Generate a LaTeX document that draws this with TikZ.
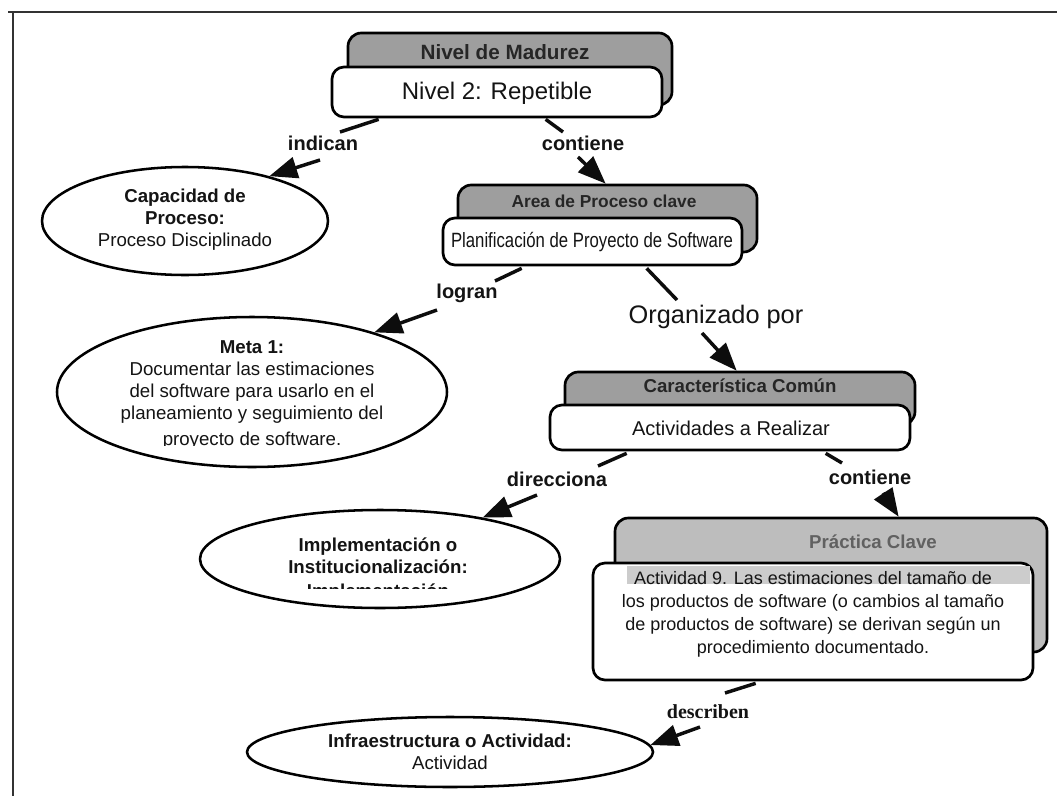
\documentclass[tikz,border=0pt]{standalone}
\usepackage{fontspec}
\setmainfont{Liberation Sans}
\newfontfamily\serifbold{Liberation Serif}
\usetikzlibrary{arrows.meta,calc,fit,shapes.geometric}

\begin{document}
\begin{tikzpicture}[x=0.75pt,y=-0.75pt,
  every node/.style={inner sep=0pt, text=black!92},
  backbox/.style={draw=black, line width=2pt, rounded corners=10pt, fill=black!38, inner sep=0pt},
  frontbox/.style={draw=black, line width=2pt, rounded corners=9pt, fill=white, inner sep=0pt},
  oval/.style={draw=black, line width=1.9pt, ellipse, fill=white, inner sep=0pt},
  head/.style={font=\bfseries\fontsize{14}{16}\selectfont, text=black!85},
  ovaltext/.style={align=center, font=\fontsize{14}{16.5}\selectfont},
  linktext/.style={font=\bfseries\fontsize{15}{18}\selectfont},
  link/.style={line width=2.6pt, draw=black!95},
  arrowlink/.style={link, -{Triangle[length=21pt,width=16pt]}}
]
% canvas and frame
\useasboundingbox (0,0) rectangle (1057,796);
\fill[white] (0,0) rectangle (1057,796);
\draw[line width=1.6pt, black!80] (8,12) -- (1057,12);
\draw[line width=1.6pt, black!80] (13,12) -- (13,796);

% level of maturity
\node[backbox, fit={(348,33) (672,105)}] (nivelback) {};
\node[head, font=\bfseries\fontsize{15.5}{18}\selectfont] (nivelhead) at (505,52) {Nivel de Madurez};
\node[frontbox, fit={(332,67) (662,117)}] (nivel) {};
\node[font=\fontsize{18}{20}\selectfont] (niveltext) at (497,93) {Nivel 2: Repetible};

% process capability
\node[oval, minimum width=214.5pt, minimum height=81pt] (cap) at (185,221) {};
\node[ovaltext] (captext) at (185,220) {\textbf{Capacidad de}\\\textbf{Proceso:}\\Proceso Disciplinado};

% key process area
\node[backbox, fit={(458,185) (757,252)}] (areaback) {};
\node[head, font=\bfseries\fontsize{13}{16}\selectfont] (areahead) at (604,201) {Area de Proceso clave};
\node[frontbox, fit={(443,218) (742,265)}] (area) {};
\node[font=\fontsize{15.5}{18}\selectfont] (areatext) at (592,242) {\scalebox{0.81}[1]{Planificación de Proyecto de Software}};

% goal
\node[oval, minimum width=292.5pt, minimum height=112.5pt] (meta) at (252,392) {};
\node[ovaltext] (metatext) at (252,382) {\textbf{Meta 1:}\\Documentar las estimaciones\\del software para usarlo en el\\planeamiento y seguimiento del};
\begin{scope}
  \clip (60,420) rectangle (445,445);
  \node[ovaltext, anchor=base] (metalast) at (252,445) {proyecto de software.};
\end{scope}

% common feature
\node[backbox, fit={(565,372) (915,425)}] (caractback) {};
\node[head] (caracthead) at (740,386) {Característica Común};
\node[frontbox, fit={(550,405) (910,450)}] (caract) {};
\node[font=\fontsize{15}{18}\selectfont] (caracttext) at (731,428) {Actividades a Realizar};

% implementation
\node[oval, minimum width=270pt, minimum height=73.5pt] (impl) at (380,559) {};
\node[ovaltext] (impltext) at (378,556) {\textbf{Implementación o}\\\textbf{Institucionalización:}};
\begin{scope}
  \clip (220,575) rectangle (540,588);
  \node[ovaltext, anchor=base, font=\bfseries\fontsize{14}{16.5}\selectfont] (impllast) at (378,597) {Implementación};
\end{scope}

% key practice
\node[backbox, fill=black!26, fit={(615,518) (1047,652)}] (practback) {};
\node[head, text=black!62] (practhead) at (873,542) {Práctica Clave};
\node[frontbox, fit={(593,563) (1033,680)}] (pract) {};
\fill[black!20] (627,566) rectangle (1030,584);
\node[align=center, font=\fontsize{13.5}{17.2}\selectfont] (practtext) at (813,614)
  {Actividad 9. Las estimaciones del tamaño de\\los productos de software (o cambios al tamaño\\de productos de software) se derivan según un\\procedimiento documentado.};

% infrastructure
\node[oval, minimum width=304.5pt, minimum height=52.5pt, ovaltext] (infra) at (450,752)
  {\textbf{Infraestructura o Actividad:}\\Actividad};

% link labels
\node[linktext] (indicanlbl) at (323,143) {indican};
\node[linktext] (contlblA) at (583,143) {contiene};
\node[linktext] (logranlbl) at (467,293) {logran};
\node[font=\fontsize{19}{22}\selectfont] (orglbl) at (716,317) {Organizado por};
\node[linktext] (dirlbl) at (557,479) {direcciona};
\node[linktext] (contlblB) at (870,477) {contiene};
\node[font=\serifbold\bfseries\fontsize{15}{18}\selectfont] (desclbl) at (708,712) {describen};

% connectors
\draw[link] ($(nivel.south west)+(48,1)$) -- ($(indicanlbl.center)+(17,-11)$);
\draw[arrowlink] ($(indicanlbl.center)+(-3,17)$) -- (cap.28);

\draw[link] ($(nivel.south west)+(215,1)$) -- ($(contlblA.center)+(-20,-11)$);
\draw[arrowlink] ($(contlblA.center)+(-5,14)$) -- ($(areaback.north west)+(149,0)$);

\draw[link] ($(area.south west)+(80,2)$) -- ($(logranlbl.center)+(28,-12)$);
\draw[arrowlink] ($(logranlbl.center)+(-30,17)$) -- (meta.26);

\draw[link] ($(area.south west)+(205,2)$) -- ($(orglbl.center)+(-39,-17)$);
\draw[arrowlink] ($(orglbl.center)+(-14,16)$) -- ($(caractback.north west)+(173,0)$);

\draw[link] ($(caract.south west)+(78,2)$) -- ($(dirlbl.center)+(41,-13)$);
\draw[arrowlink] ($(dirlbl.center)+(-20,16)$) -- (impl.22);

\draw[link] ($(caract.south west)+(277,2)$) -- ($(contlblB.center)+(-28,-14)$);
\draw[arrowlink] ($(contlblB.center)+(13,16)$) -- ($(practback.north west)+(285,0)$);

\draw[link] ($(pract.south west)+(164,2)$) -- ($(desclbl.center)+(17,-19)$);
\draw[arrowlink] ($(desclbl.center)+(-8,15)$) -- (infra.2);
\end{tikzpicture}
\end{document}
